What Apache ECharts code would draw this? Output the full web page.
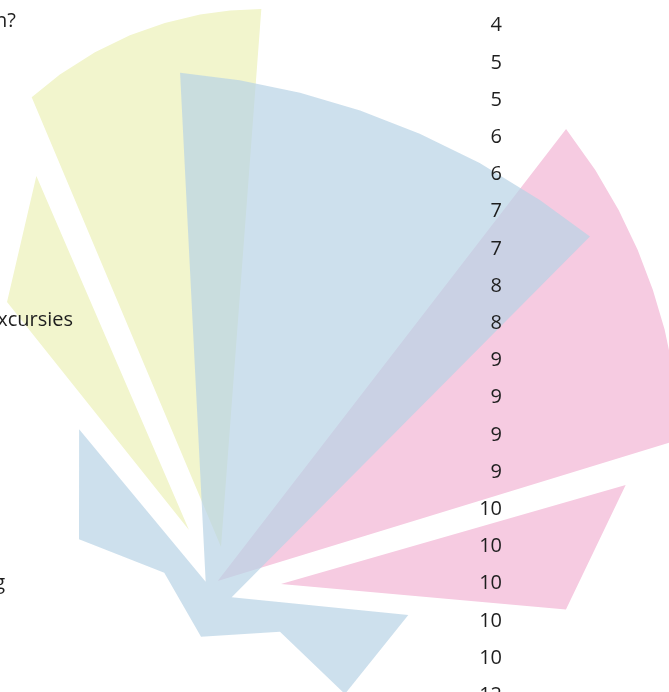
<!DOCTYPE html>
<html>
<head>
<meta charset="utf-8">
<script src="https://cdn.jsdelivr.net/npm/echarts@6/dist/echarts.min.js"></script>
<style>
html,body{margin:0;padding:0;background:#ffffff;}
#chart{width:669px;height:692px;}
</style>
</head>
<body>
<div id="chart"></div>
<script>
// ---- data ----
// value column (category labels, top to bottom)
const valueLabels = ['4','5','5','6','6','7','7','8','8','9','9','9','9','10','10','10','10','10','12'];
// question labels (left side)
const questionLabels = ['Wat vindt u van de kosten?', 'Schoolreisjes en excursies', 'Overblijven en begeleiding'];

// polar points: [radius, angle in degrees]; radius 0 = back to the centre
const yellowPoints = [
  [38.5, 81.0], [521.0, 110.6], [533.6, 106.9], [546.1, 102.7], [556.2, 98.8],
  [564.3, 95.1], [570.6, 91.5], [574.7, 88.5], [577.9, 85.4], [38.5, 81.0],
  [0, 100],
  [60.8, 115.3], [446.2, 113.6], [351.3, 126.3], [60.8, 115.3]
];
const pinkPoints = [
  [4.8, 56.0], [575.4, 52.4], [562.9, 47.5], [551.0, 42.9], [539.4, 38.4],
  [528.1, 34.0], [517.1, 29.6], [506.1, 25.1], [495.5, 20.7], [488.1, 17.4], [4.8, 56.0],
  [0, 10],
  [66.0, 0.9], [422.7, 13.7], [351.8, 356.0], [66.0, 0.9]
];
const bluePoints = [
  [9.9, 160.5], [513.5, 93.9], [505.3, 87.2], [499.5, 80.2], [496.3, 73.0],
  [495.6, 65.6], [498.1, 57.9], [503.8, 49.8], [511.8, 42.9], [20.7, 323.6],
  [195.6, 351.2], [169.6, 320.0], [80.0, 324.3], [53.6, 254.9], [52.2, 166.4],
  [143.5, 161.4], [206.7, 131.1], [9.9, 160.5]
];

// ---- chart ----
const chart = echarts.init(document.getElementById('chart'), null, {renderer: 'canvas'});
const FONT = 'Open Sans';
const TEXT = '#1e1e1e';

function areaSeries(name, data, color, opacity) {
  return {
    type: 'line', name: name, coordinateSystem: 'polar', polarIndex: 0,
    data: data, showSymbol: false, symbol: 'none', smooth: false,
    lineStyle: {width: 0, opacity: 0},
    areaStyle: {color: color, opacity: opacity},
    silent: true, animation: false, clip: false, z: 2
  };
}

const questionPos = [
  {right: 653, top: 11},
  {right: 596, top: 310},
  {right: 664, top: 573}
];

chart.setOption({
  backgroundColor: '#ffffff',
  animation: false,
  title: questionLabels.map((t, i) => ({
    text: t, right: questionPos[i].right, top: questionPos[i].top, padding: 0, z: 10,
    textStyle: {fontFamily: FONT, fontSize: 20, fontWeight: 'normal', color: TEXT, lineHeight: 20}
  })),
  polar: {center: [215, 585], radius: 700},
  radiusAxis: {type: 'value', min: 0, max: 700, show: false, splitLine: {show: false}},
  angleAxis: {type: 'value', min: 0, max: 360, startAngle: 0, clockwise: false, show: false, splitLine: {show: false}},
  grid: {left: 510, top: 7, width: 100, height: 707, containLabel: false, outerBoundsMode: 'none'},
  xAxis: {type: 'value', show: false},
  yAxis: {
    type: 'category', inverse: true, data: valueLabels, z: 10,
    axisLine: {show: false}, axisTick: {show: false}, splitLine: {show: false},
    axisLabel: {interval: 0, margin: 8, fontFamily: FONT, fontSize: 20, color: TEXT}
  },
  series: [
    areaSeries('geel', yellowPoints, '#f2f5cd', 1),
    areaSeries('roze', pinkPoints, '#f6cbe1', 1),
    areaSeries('blauw', bluePoints, '#b8d3e5', 0.7)
  ]
});
</script>
</body>
</html>
